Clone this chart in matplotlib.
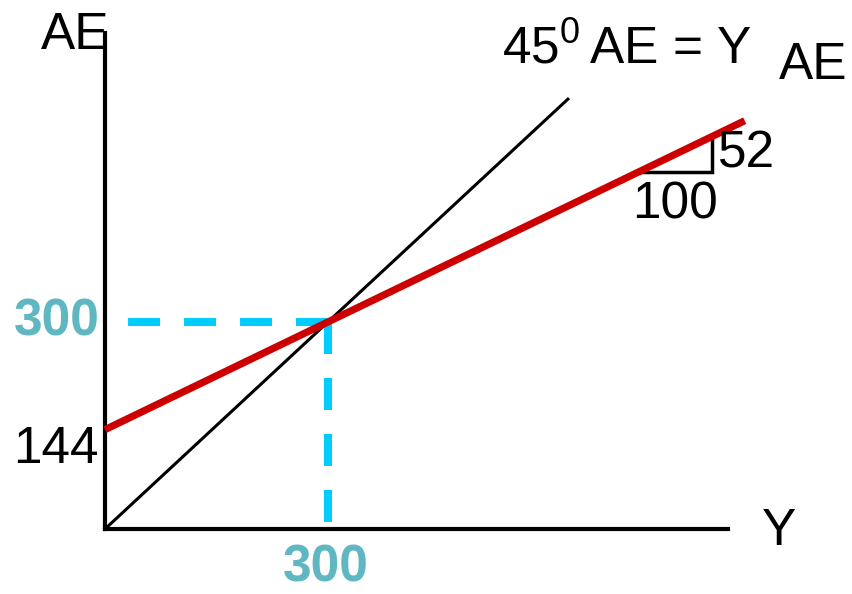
import matplotlib
matplotlib.use("Agg")
import matplotlib.pyplot as plt
import numpy as np

plt.rcParams['font.family'] = ['Liberation Sans', 'DejaVu Sans']
plt.rcParams['mathtext.fontset'] = 'custom'
plt.rcParams['mathtext.rm'] = 'Liberation Sans'

# Keynesian cross: AE = autonomous + mpc * Y
autonomous = 144
mpc_rise = 52
mpc_run = 100
mpc = mpc_rise / mpc_run
y_eq = 300
ae_eq = autonomous + mpc * y_eq

# how far each line runs along Y
y_45_end = 623
y_ae_end = 861
y_tri_right = 817
y_axis_len = 838
ae_axis_len = 719

# pixel layout (figure is 852 x 594 px)
W, H = 852, 594
x0_px, y0_px = 105, 529          # origin
sx, sy = 0.743, 0.69             # px per unit

fig = plt.figure(figsize=(W / 100, H / 100), dpi=100)
ax = fig.add_axes([0, 0, 1, 1])
ax.set_xlim(-x0_px / sx, (W - x0_px) / sx)
ax.set_ylim(-(H - y0_px) / sy, y0_px / sy)

for side in ['top', 'right']:
    ax.spines[side].set_visible(False)
ax.spines['left'].set_position(('data', 0))
ax.spines['bottom'].set_position(('data', 0))
ax.spines['left'].set_bounds(0, ae_axis_len)
ax.spines['bottom'].set_bounds(0, y_axis_len)
for side in ['left', 'bottom']:
    ax.spines[side].set_linewidth(3)
    ax.spines[side].set_capstyle('projecting')
ax.set_xticks([])
ax.set_yticks([])
ax.patch.set_visible(False)

cyan = '#00CCFF'
teal = '#5FB7C1'
red = '#CC0000'

# dashed guides at equilibrium (drawn from the intersection outward)
ax.plot([y_eq, 0], [ae_eq, ae_eq], color=cyan, lw=5.8, dashes=(3.97, 2.98),
        solid_capstyle='butt', dash_capstyle='butt', zorder=1)
ax.plot([y_eq, y_eq], [ae_eq, 0], color=cyan, lw=5.8, dashes=(3.97, 2.98),
        solid_capstyle='butt', dash_capstyle='butt', zorder=1)

# 45 degree line
yy = np.array([0, y_45_end])
ax.plot(yy, yy, color='black', lw=2.2, zorder=2)

# AE line
ya = np.array([0, y_ae_end])
ax.plot(ya, autonomous + mpc * ya, color=red, lw=5.2,
        solid_capstyle='butt', clip_on=False, zorder=3)

# slope triangle
y_tri_left = y_tri_right - mpc_run
ae_left = autonomous + mpc * y_tri_left
ax.plot([y_tri_left, y_tri_right, y_tri_right],
        [ae_left, ae_left, ae_left + mpc_rise],
        color='black', lw=2.5, solid_joinstyle='miter', zorder=2)

fs = 37
ax.annotate(str(mpc_rise), (y_tri_right, ae_left + mpc_rise / 2),
            xytext=(4, 0), textcoords='offset points',
            fontsize=fs, ha='left', va='center')
ax.annotate(str(mpc_run), (y_tri_left + mpc_run / 2, ae_left),
            xytext=(0, -6), textcoords='offset points',
            fontsize=fs, ha='center', va='top')


def fx(px):
    return px / W


def fy(py):
    return 1 - py / H


fig.text(fx(75), fy(49), 'AE', fontsize=fs, ha='center', va='baseline')
fig.text(fx(779), fy(545), 'Y', fontsize=fs, ha='center', va='baseline')
fig.text(fx(502), fy(63), r'45$^{\mathrm{0}}\,$AE = Y', fontsize=fs,
         ha='left', va='baseline')
fig.text(fx(813), fy(79), 'AE', fontsize=fs, ha='center', va='baseline')
fig.text(fx(99), fy(463), str(autonomous), fontsize=fs, ha='right', va='baseline')
fig.text(fx(100), fy(336), str(int(ae_eq)), fontsize=fs, ha='right',
         va='baseline', color=teal, fontweight='bold')
fig.text(fx(326), fy(582), str(y_eq), fontsize=fs, ha='center',
         va='baseline', color=teal, fontweight='bold')

fig.savefig('out.png', dpi=100)
